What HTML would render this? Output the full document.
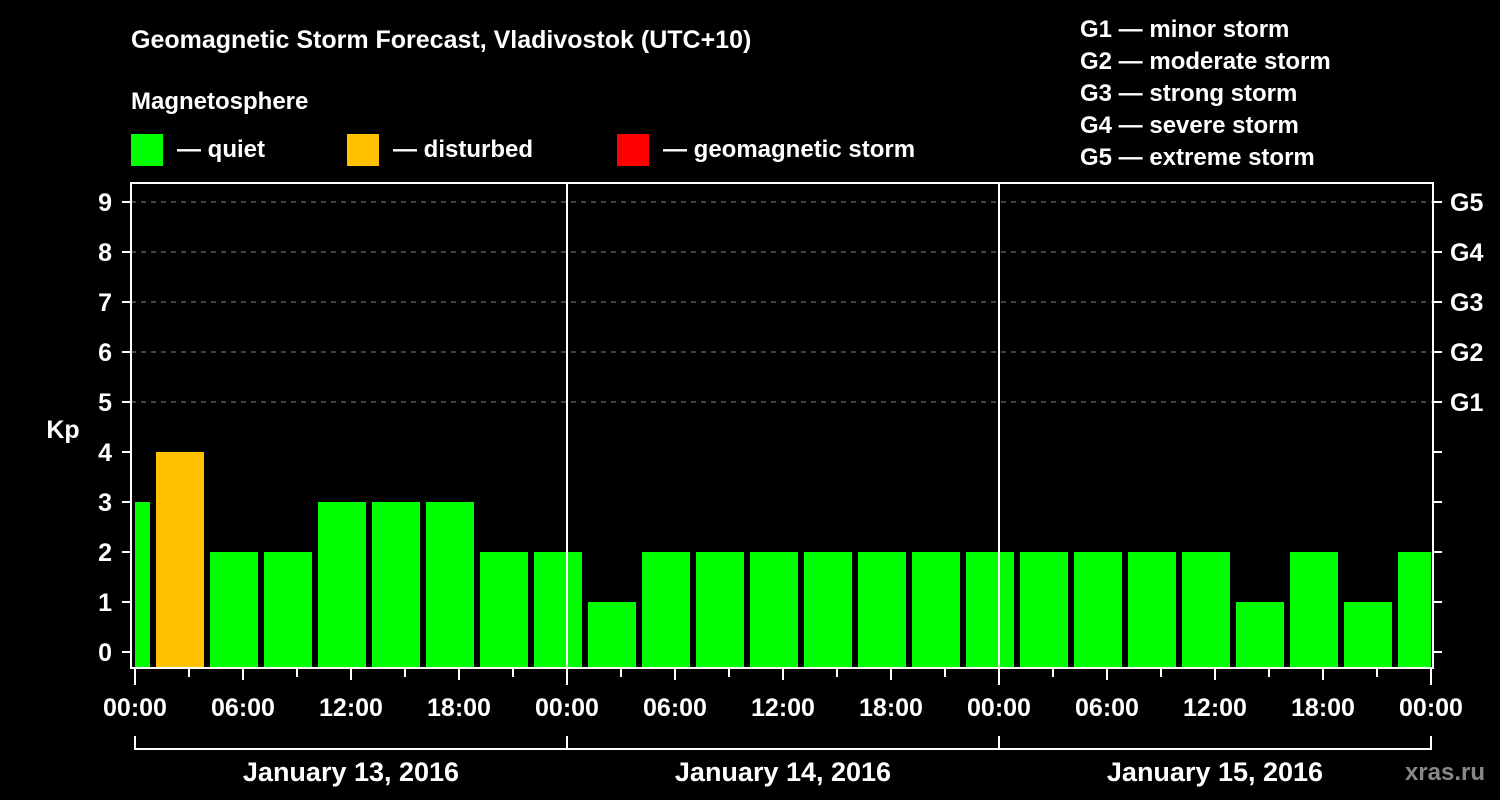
<!DOCTYPE html>
<html><head><meta charset="utf-8"><style>
html,body{margin:0;padding:0;background:#000;}
svg{display:block;font-family:"Liberation Sans",sans-serif;font-weight:bold;}
</style></head><body>
<svg id="chart" width="1500" height="800" viewBox="0 0 1500 800">
<rect width="1500" height="800" fill="#000"/>
<text x="131" y="48" fill="#fff" font-size="25">Geomagnetic Storm Forecast, Vladivostok (UTC+10)</text>
<text x="131" y="109" fill="#fff" font-size="24">Magnetosphere</text>
<g><rect x="131" y="134" width="32" height="32" fill="#00ff00"/><text x="177" y="157" fill="#fff" font-size="24">— quiet</text></g>
<g><rect x="347" y="134" width="32" height="32" fill="#ffc000"/><text x="393" y="157" fill="#fff" font-size="24">— disturbed</text></g>
<g><rect x="617" y="134" width="32" height="32" fill="#ff0000"/><text x="663" y="157" fill="#fff" font-size="24">— geomagnetic storm</text></g>
<g fill="#fff" font-size="24">
<text x="1080" y="37">G1 — minor storm</text>
<text x="1080" y="69">G2 — moderate storm</text>
<text x="1080" y="101">G3 — strong storm</text>
<text x="1080" y="133">G4 — severe storm</text>
<text x="1080" y="165">G5 — extreme storm</text>
</g>
<g id="grid"></g><g id="bars"></g><g id="axes"></g>
<text x="63" y="438" fill="#fff" font-size="25" text-anchor="middle">Kp</text>
<text x="1485" y="780" fill="#888" font-size="24" text-anchor="end">xras.ru</text>
</svg>
<script>
const kpValues=[3,4,2,2,3,3,3,2,2,1,2,2,2,2,2,2,2,2,2,2,2,1,2,1,2];
const barStartHours=[-2,1,4,7,10,13,16,19,22,25,28,31,34,37,40,43,46,49,52,55,58,61,64,67,70];
const kpTicks=[0,1,2,3,4,5,6,7,8,9];
const gLabels=["","","","","","G1","G2","G3","G4","G5"];
const timeLabels=["00:00","06:00","12:00","18:00","00:00","06:00","12:00","18:00","00:00","06:00","12:00","18:00","00:00"];
const dayLabels=["January 13, 2016","January 14, 2016","January 15, 2016"];
const NS="http://www.w3.org/2000/svg";
const L=131,R=1433,T=183,B=668;
const x0=135,pxH=18,totalH=72;
const X=h=>x0+Math.max(0,Math.min(totalH,h))*pxH;
const Y=k=>652-k*50;
function mk(tag,attrs,parent,text){const e=document.createElementNS(NS,tag);for(const k in attrs)e.setAttribute(k,attrs[k]);if(text!==undefined)e.textContent=text;document.getElementById(parent).appendChild(e);return e;}
kpTicks.forEach((k,i)=>{
 if(k>=5){const g=mk('line',{x1:L,x2:R,y1:Y(k),y2:Y(k),stroke:'#888','stroke-width':1,'stroke-dasharray':'5,5'},'grid');
 
 }
 const t=mk('text',{x:112,y:Y(k)+9,fill:'#fff','font-size':25,'text-anchor':'end'},'axes',String(k));
 
 
 mk('line',{x1:122,x2:L,y1:Y(k),y2:Y(k),stroke:'#fff','stroke-width':2},'axes');
 mk('line',{x1:R,x2:1442,y1:Y(k),y2:Y(k),stroke:'#fff','stroke-width':2},'axes');
 if(gLabels[i]){const g2=mk('text',{x:1450,y:Y(k)+9,fill:'#fff','font-size':25},'axes',gLabels[i]);
 
 }
});
kpValues.forEach((v,i)=>{
 const s=barStartHours[i],e=s+3;
 let a=X(s),b=X(e);
 if(s>=0)a+=3; if(e<=totalH)b-=3;
 const c=v>=5?'#ff0000':(v>=4?'#ffc000':'#00ff00');
 const r=mk('rect',{x:a,y:Y(v),width:b-a,height:667-Y(v),fill:c},'bars');
 
 
});
mk('rect',{x:L,y:T,width:R-L,height:B-T,fill:'none',stroke:'#fff','stroke-width':2},'axes');
[24,48].forEach(h=>mk('line',{x1:X(h),x2:X(h),y1:T,y2:B,stroke:'#fff','stroke-width':2},'axes'));
for(let h=0;h<=totalH;h+=3){
 const len=h%24===0?17:(h%6===0?12:9);
 mk('line',{x1:X(h),x2:X(h),y1:B,y2:B+len,stroke:'#fff','stroke-width':2},'axes');
}
timeLabels.forEach((t,i)=>{const e=mk('text',{x:X(i*6),y:716,fill:'#fff','font-size':25,'text-anchor':'middle'},'axes',t);
 
 });
mk('line',{x1:X(0),x2:X(72),y1:749,y2:749,stroke:'#fff','stroke-width':2},'axes');
[0,24,48,72].forEach(h=>mk('line',{x1:X(h),x2:X(h),y1:736,y2:750,stroke:'#fff','stroke-width':2},'axes'));
dayLabels.forEach((d,i)=>{const e=mk('text',{x:X(i*24+12),y:781,fill:'#fff','font-size':27,'text-anchor':'middle'},'axes',d);
 
 });
</script>
</body></html>
